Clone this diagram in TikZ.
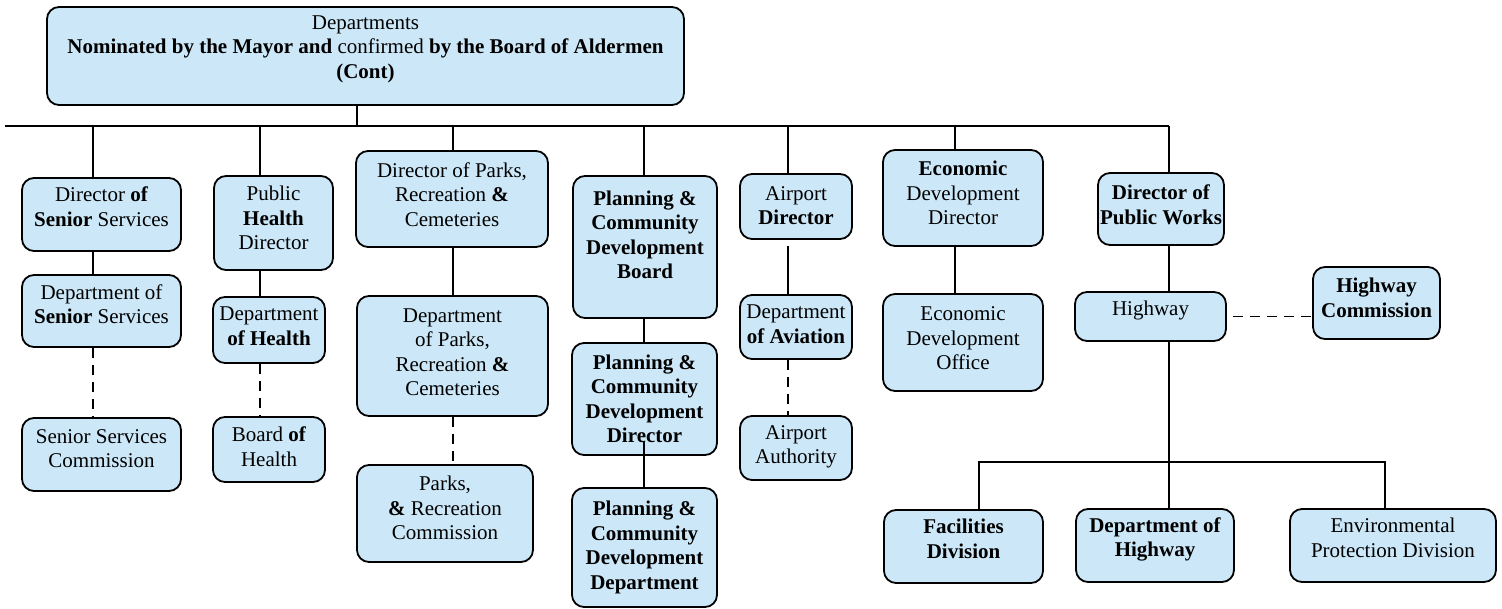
\documentclass[tikz,border=0pt]{standalone}
\usepackage{fontspec}
\setmainfont{Liberation Serif}
\usepackage{xcolor}
\usepackage{tikz}
\definecolor{boxblue}{RGB}{204,232,248}

\begin{document}
\begin{tikzpicture}[x=1pt, y=-1pt,
    unit/.style={draw, line width=1.8pt, fill=boxblue, rounded corners=12pt, align=center, inner sep=0pt, font=\fontsize{21}{24.5}\selectfont},
    lift/.style={text depth=#1pt},
    link/.style={line width=1.6pt},
    dashlink/.style={line width=1.7pt, dash pattern=on 10pt off 7pt}]
            \useasboundingbox (0,0) rectangle (1502,609);
            \node (0) at (365.5, 56) [unit, lift=18.5, minimum width=637pt, minimum height=98pt] {Departments\\ \textbf{Nominated by the Mayor and} confirmed \textbf{by the Board of Aldermen}\\ \textbf{(Cont)}};
            \node (1) at (101.5, 214.5) [unit, lift=16, minimum width=159pt, minimum height=73pt] {Director \textbf{of}\\ \textbf{Senior} Services};
            \node (2) at (101.5, 311) [unit, lift=14, minimum width=159pt, minimum height=72pt] {Department of\\ \textbf{Senior} Services};
            \node (3) at (101.5, 454.5) [unit, lift=12, minimum width=159pt, minimum height=73pt] {Senior Services\\ Commission};
            \node (4) at (273.5, 223) [unit, lift=10, minimum width=119pt, minimum height=94pt] {Public\\ \textbf{Health}\\ Director};
            \node (5) at (269, 330) [unit, lift=8, minimum width=112pt, minimum height=66pt] {Department\\ \textbf{of Health}};
            \node (6) at (269, 449.5) [unit, lift=6, minimum width=112pt, minimum height=65pt] {Board \textbf{of}\\ Health};
            \node (7) at (452, 199) [unit, lift=9, minimum width=192pt, minimum height=96pt] {Director of Parks,\\ Recreation \textbf{\&}\\ Cemeteries};
            \node (8) at (452.5, 356) [unit, lift=8, minimum width=191pt, minimum height=120pt] {Department\\ of Parks,\\ Recreation \textbf{\&}\\ Cemeteries};
            \node (9) at (445, 513.5) [unit, lift=11, minimum width=176pt, minimum height=97pt] {Parks,\\ \textbf{\&} Recreation\\ Commission};
            \node (10) at (645, 247) [unit, lift=25, minimum width=144pt, minimum height=142pt] {\textbf{Planning \&}\\ \textbf{Community}\\ \textbf{Development}\\ \textbf{Board}};
            \node (11) at (644.5, 399) [unit, minimum width=145pt, minimum height=112pt] {\textbf{Planning \&}\\ \textbf{Community}\\ \textbf{Development}\\ \textbf{Director}};
            \node (12) at (644.5, 547.5) [unit, minimum width=145pt, minimum height=119pt] {\textbf{Planning \&}\\ \textbf{Community}\\ \textbf{Development}\\ \textbf{Department}};
            \node (13) at (796, 206.5) [unit, lift=2, minimum width=112pt, minimum height=65pt] {Airport\\ \textbf{Director}};
            \node (14) at (796, 327) [unit, lift=6, minimum width=112pt, minimum height=64pt] {Department\\ \textbf{of Aviation}};
            \node (15) at (796, 448) [unit, lift=6.5, minimum width=112pt, minimum height=64pt] {Airport\\ Authority};
            \node (16) at (963, 198) [unit, lift=10, minimum width=160pt, minimum height=96pt] {\textbf{Economic}\\ Development\\ Director};
            \node (17) at (963, 342.5) [unit, lift=8, minimum width=160pt, minimum height=97pt] {Economic\\ Development\\ Office};
            \node (18) at (1161, 209) [unit, lift=9, minimum width=126pt, minimum height=72pt] {\textbf{Director of}\\ \textbf{Public Works}};
            \node (19) at (1150.5, 316.5) [unit, lift=16.5, minimum width=151pt, minimum height=49pt] {Highway};
            \node (20) at (1376.5, 303) [unit, lift=11, minimum width=127pt, minimum height=72pt] {\textbf{Highway}\\ \textbf{Commission}};
            \node (21) at (963.5, 546.5) [unit, lift=16, minimum width=159pt, minimum height=73pt] {\textbf{Facilities}\\ \textbf{Division}};
            \node (22) at (1155, 545.5) [unit, lift=16.5, minimum width=158pt, minimum height=73pt] {\textbf{Department of}\\ \textbf{Highway}};
            \node (23) at (1393, 545.5) [unit, lift=16, minimum width=206pt, minimum height=73pt] {Environmental\\ Protection Division};
            % bus line under the top box
            \coordinate (b0) at (357, 126);
            \coordinate (bl) at (5, 126);
            \coordinate (b1) at (93, 126);
            \coordinate (b2) at (260, 126);
            \coordinate (b3) at (453, 126);
            \coordinate (b4) at (644, 126);
            \coordinate (b5) at (788, 126);
            \coordinate (b6) at (955, 126);
            \coordinate (b7) at (1169, 126);
            \coordinate (k1) at (979, 462);
            \coordinate (k3) at (1385, 462);
            \draw [link] (b0 |- 0.south) -- (b0);
            \draw [link] (bl) -- (b7);
            \draw [link] (b1) -- (b1 |- 1.north);
            \draw [link] (b1 |- 1.south) -- (b1 |- 2.north);
            \draw [dashlink] (b1 |- 2.south) -- (b1 |- 3.north);
            \draw [link] (b2) -- (b2 |- 4.north);
            \draw [link] (b2 |- 4.south) -- (b2 |- 5.north);
            \draw [dashlink] (b2 |- 5.south) -- (b2 |- 6.north);
            \draw [link] (b3) -- (b3 |- 7.north);
            \draw [link] (b3 |- 7.south) -- (b3 |- 8.north);
            \draw [dashlink] (b3 |- 8.south) -- (b3 |- 9.north);
            \draw [link] (b4) -- (b4 |- 10.north);
            \draw [link] (b4 |- 10.south) -- (b4 |- 11.north);
            \draw [link] ([yshift=15pt]b4 |- 11.south) -- (b4 |- 12.north);
            \draw [link] (b5) -- (b5 |- 13.north);
            \draw [link] ([yshift=-6pt]b5 |- 13.south) -- (b5 |- 14.north);
            \draw [dashlink] (b5 |- 14.south) -- (b5 |- 15.north);
            \draw [link] (b6) -- (b6 |- 16.north);
            \draw [link] (b6 |- 16.south) -- (b6 |- 17.north);
            \draw [link] (b7) -- (b7 |- 18.north);
            \draw [link] (b7 |- 18.south) -- (b7 |- 19.north);
            \draw [link] (b7 |- 19.south) -- (b7 |- 22.north);
            \draw [dashlink] ([xshift=6pt]19.east) -- (20.west |- 19.east);
            \draw [link] (k1 |- 21.north) -- (k1) -- (k3) -- (k3 |- 23.north);
        \end{tikzpicture}
\end{document}
